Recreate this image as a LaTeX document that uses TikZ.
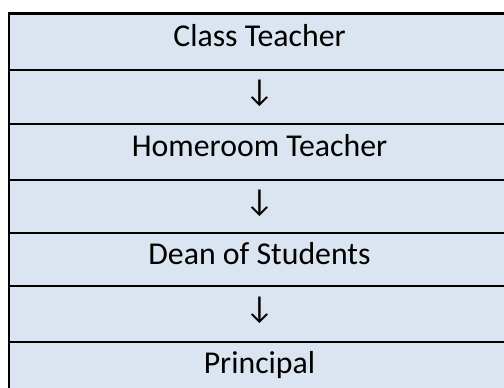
\documentclass[tikz,border=0pt]{standalone}
\usepackage{fontspec}
\setmainfont{Carlito}
\definecolor{cellFill}{RGB}{219,229,241}
\begin{document}
\begin{tikzpicture}
[x=0.5pt,y=-0.5pt,%
  cellDecorate/.style={shape=rectangle,draw,line width=1.1pt,fill=cellFill,
    minimum width=250.2pt,inner sep=0pt,text height=9pt,text depth=4.5pt,
    font=\fontsize{15.9}{18}\selectfont}]
\useasboundingbox (0,0) rectangle (504,387);
\clip (0,0) rectangle (504,387);
%% cells of the chart
\foreach \cellname/\top/\bot/\cellText in {
  class/13.5/70/Class Teacher, arrowA/70/124/↓,
  homeroom/124/180/Homeroom Teacher, arrowB/180/233.3/↓,
  dean/233.3/285.8/Dean of Students, arrowC/285.8/341.7/↓,
  principal/341.7/397/Principal}
{
  \pgfmathsetmacro{\cellHeight}{(\bot-\top)/2}
  \node (\cellname) at (259.5,{(\top+\bot)/2})
    [cellDecorate,minimum height=\cellHeight pt] {\cellText};
}
\end{tikzpicture}
\end{document}
